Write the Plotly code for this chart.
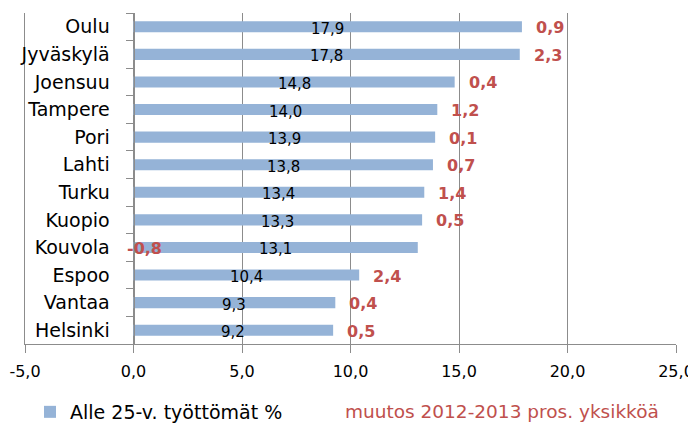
import plotly.graph_objects as go

cities = ["Oulu", "Jyväskylä", "Joensuu", "Tampere", "Pori", "Lahti",
          "Turku", "Kuopio", "Kouvola", "Espoo", "Vantaa", "Helsinki"]
rate = [17.9, 17.8, 14.8, 14.0, 13.9, 13.8, 13.4, 13.3, 13.1, 10.4, 9.3, 9.2]
change = [0.9, 2.3, 0.4, 1.2, 0.1, 0.7, 1.4, 0.5, -0.8, 2.4, 0.4, 0.5]

x_ticks = [-5, 0, 5, 10, 15, 20, 25]
x_ticktext = ["-5,0", "0,0", "5,0", "10,0", "15,0", "20,0", "25,0"]

BLUE = "#95B3D7"
RED = "#C0504D"
GRID = "#8C8C8C"
FONT = "DejaVu Sans"


def fi(v):
    return f"{v:.1f}".replace(".", ",")


fig = go.Figure()
fig.add_trace(go.Bar(
    name="Alle 25-v. työttömät %",
    y=cities, x=rate, orientation="h",
    marker=dict(color=BLUE, line=dict(width=0)),
    width=0.4,
    hoverinfo="skip",
))
# empty trace on a second y axis, only to get the frame line at x = -5
fig.add_trace(go.Bar(y=cities, x=[None] * len(cities), orientation="h",
                     yaxis="y2", showlegend=False, hoverinfo="skip"))

# value labels in the middle of the bars
for c, v in zip(cities, rate):
    fig.add_annotation(
        x=v / 2, y=c, xref="x", yref="y", text=fi(v), showarrow=False,
        yshift=-2, font=dict(family=FONT, size=15, color="black"),
    )

# red change labels next to the bars
for c, v, d in zip(cities, rate, change):
    fig.add_annotation(
        x=v if d >= 0 else 0, y=c, xref="x", yref="y",
        text=f"<b>{fi(d)}</b>", showarrow=False,
        xanchor="left", xshift=12 if d >= 0 else -9, yshift=-1,
        font=dict(family=FONT, size=16, color=RED),
    )

fig.add_annotation(
    x=0.4885, y=-0.2054, xref="paper", yref="paper",
    text="muutos 2012-2013 pros. yksikköä", showarrow=False,
    xanchor="left", yanchor="middle",
    font=dict(family=FONT, size=18.5, color=RED),
)

fig.update_layout(
    width=688, height=416,
    margin=dict(l=17, r=20, t=5, b=80, autoexpand=False),
    plot_bgcolor="white", paper_bgcolor="white",
    font=dict(family=FONT, size=15, color="black"),
    showlegend=True,
    legend=dict(orientation="h", x=0.0077, y=-0.2054, xanchor="left", yanchor="middle",
                font=dict(family=FONT, size=19), itemwidth=30),
    xaxis=dict(range=[-5, 25], tickvals=x_ticks, ticktext=x_ticktext,
               showgrid=True, gridcolor=GRID, gridwidth=1,
               showline=True, linecolor=GRID, linewidth=1,
               ticks="outside", ticklen=8, tickcolor=GRID,
               ticklabelstandoff=5,
               zeroline=False, fixedrange=True, automargin=False,
               tickfont=dict(family=FONT, size=16)),
    yaxis=dict(autorange="reversed", anchor="free", position=5 / 30,
               showline=True, linecolor=GRID, linewidth=1,
               ticks="outside", ticklen=8, tickcolor=GRID,
               tickson="boundaries", showgrid=False, automargin=False,
               ticklabelstandoff=20,
               tickfont=dict(family=FONT, size=19)),
    yaxis2=dict(overlaying="y", anchor="x", side="left", showline=True,
                linecolor=GRID, linewidth=1, showticklabels=False, ticks="",
                showgrid=False, zeroline=False, automargin=False),
    bargap=0.6,
)

fig.write_html("out.html")
